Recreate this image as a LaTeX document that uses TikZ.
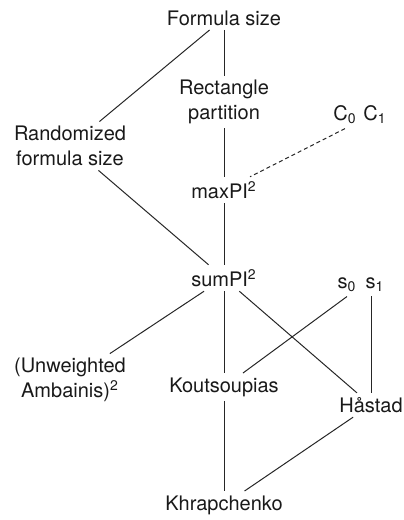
\documentclass[tikz,border=0pt]{standalone}
\usepackage{fontspec}
\setmainfont{TeX Gyre Heros}
\usetikzlibrary{positioning}
\tikzset{
    lattice/.style={line width=0.5pt, draw=black!85, text=black!90, font=\fontsize{10}{12.5}\selectfont},
    measure/.style={align=center, inner sep=2pt},
    % dashed link for the weaker relation
    weaker/.style={dash pattern=on 2pt off 1.5pt},
}

\begin{document}
\begin{tikzpicture}[lattice, on grid]
    \useasboundingbox (0,0) rectangle (201.5pt,-260pt);

    \node[measure]                                   (formula) at (112pt,-9pt) {Formula size};
    \node[measure, below=42pt of formula]            (rect)    {Rectangle\\partition};
    \node[measure, below left=64pt and 77pt of formula] (rand) {Randomized\\formula size};
    \node[measure, below=44pt of rect]               (maxpi)   {maxPI\textsuperscript{2}};
    \node[measure, below=44pt of maxpi]              (sumpi)   {sumPI\textsuperscript{2}};
    \node[measure, below=54.5pt of sumpi]            (kout)    {Koutsoupias};
    \node[measure, below=59pt of kout]               (khrap)   {Khrapchenko};
    \node[measure, below=117pt of rand]              (unw)     {(Unweighted\\Ambainis)\textsuperscript{2}};
    \node[measure, below right=9pt and 73.5pt of kout] (hastad) {Håstad};
    \node[measure, below right=6.5pt and 60.5pt of rect] (c0)  {C\textsubscript{0}};
    \node[measure, right=15pt of c0]                 (c1)      {C\textsubscript{1}};
    \node[measure, below right=3.5pt and 61.5pt of sumpi] (s0) {s\textsubscript{0}};
    \node[measure, right=14pt of s0]                 (s1)      {s\textsubscript{1}};

    \draw (formula) -- (rect);
    \draw (rect) -- (maxpi);
    \draw (maxpi) -- (sumpi);
    \draw (sumpi) -- (kout);
    \draw (kout) -- (khrap);
    \draw (formula) -- (rand);
    \draw (rand) -- (sumpi);
    \draw (sumpi) -- (unw);
    \draw (sumpi) -- (hastad);
    \draw (s0.south) -- (kout);
    \draw (hastad |- s1.south) -- (hastad);
    \draw (hastad) -- (khrap);
    \draw[weaker] (c0.south) -- (maxpi);
\end{tikzpicture}
\end{document}
